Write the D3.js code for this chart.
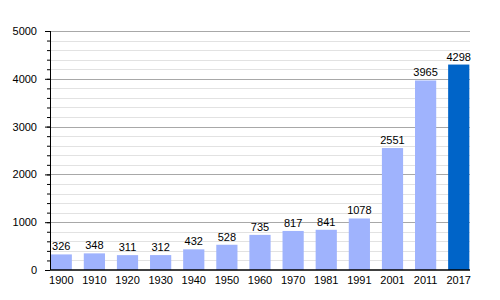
<!DOCTYPE html>
<html>
<head>
<meta charset="utf-8">
<script src="https://cdn.jsdelivr.net/npm/d3@7"></script>
<style>
  body { margin: 0; background: #fff; }
  text { font-family: "Liberation Sans", Arial, sans-serif; }
</style>
</head>
<body>
<svg id="chart" width="500" height="300"></svg>
<script>
const years = ['1900', '1910', '1920', '1930', '1940', '1950', '1960', '1970', '1981', '1991', '2001', '2011', '2017'];
const population = [326, 348, 311, 312, 432, 528, 735, 817, 841, 1078, 2551, 3965, 4298];
const majorTicks = [0, 1000, 2000, 3000, 4000, 5000];
const minorTicks = d3.range(0, 5001, 200);

const margin = { top: 31, right: 30, bottom: 30, left: 50 };
const width = 500, height = 300;
const svg = d3.select('#chart');

const x = d3.scaleBand()
  .domain(years)
  .range([margin.left, width - margin.right])
  .paddingInner(0.36)
  .paddingOuter(0.02);
const y = d3.scaleLinear()
  .domain([0, 5000])
  .range([height - margin.bottom, margin.top]);

// minor grid
svg.append('g')
  .selectAll('line')
  .data(minorTicks.filter(d => d % 1000 !== 0))
  .join('line')
  .attr('x1', margin.left).attr('x2', width - margin.right)
  .attr('y1', d => Math.round(y(d)) + 0.5).attr('y2', d => Math.round(y(d)) + 0.5)
  .attr('stroke', '#e2e2e2');

// major grid
svg.append('g')
  .selectAll('line')
  .data(majorTicks.filter(d => d > 0))
  .join('line')
  .attr('x1', margin.left).attr('x2', width - margin.right)
  .attr('y1', d => Math.round(y(d)) + 0.5).attr('y2', d => Math.round(y(d)) + 0.5)
  .attr('stroke', '#a8a8a8');

// bars
svg.append('g')
  .selectAll('rect')
  .data(years)
  .join('rect')
  .attr('x', d => x(d))
  .attr('width', x.bandwidth())
  .attr('y', (d, i) => y(population[i]))
  .attr('height', (d, i) => y(0) - y(population[i]))
  .attr('fill', (d, i) => i === years.length - 1 ? '#0064c8' : '#9fb3fd');

// value labels
svg.append('g')
  .selectAll('text')
  .data(years)
  .join('text')
  .attr('x', d => x(d) + x.bandwidth() / 2)
  .attr('y', (d, i) => y(population[i]) - 4)
  .attr('text-anchor', 'middle')
  .attr('font-size', 11)
  .attr('fill', '#000')
  .text((d, i) => population[i]);

// y axis with minor ticks
const yAxis = svg.append('g').attr('transform', `translate(${margin.left},0)`);
yAxis.call(d3.axisLeft(y).tickValues(minorTicks).tickSize(3).tickFormat(''))
  .call(g => g.select('.domain').remove());
yAxis.append('g')
  .call(d3.axisLeft(y).tickValues(majorTicks).tickSize(5).tickPadding(8).tickFormat(d3.format('d')))
  .call(g => g.selectAll('text').attr('font-size', 11).attr('fill', '#000').style('font-family', '"Liberation Sans", Arial, sans-serif'))
  .call(g => g.select('.domain').remove());
yAxis.append('line')
  .attr('x1', 0.5).attr('x2', 0.5)
  .attr('y1', y(5000)).attr('y2', y(0))
  .attr('stroke', '#000');

// x axis
svg.append('g')
  .attr('transform', `translate(0,${y(0)})`)
  .call(d3.axisBottom(x).tickSize(0).tickPadding(6))
  .call(g => g.select('.domain').attr('stroke', '#000').attr('stroke-width', 1.5).attr('d', `M${margin.left},0H${width - margin.right}`))
  .call(g => g.selectAll('text').attr('font-size', 11).attr('fill', '#000').style('font-family', '"Liberation Sans", Arial, sans-serif'));
</script>
</body>
</html>
